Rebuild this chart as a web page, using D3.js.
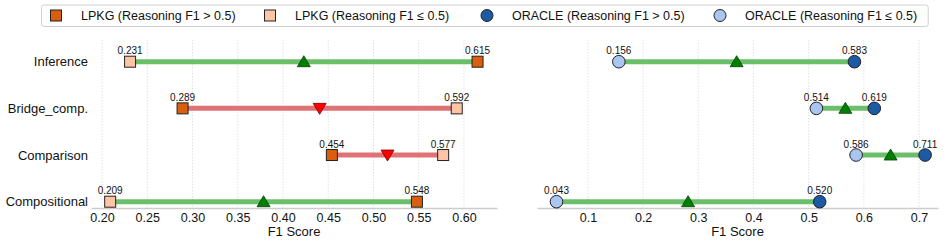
<!DOCTYPE html>
<html>
<head>
<meta charset="utf-8">
<script src="https://cdn.jsdelivr.net/npm/d3@7"></script>
<style>
body { margin: 0; background: #fff; }
svg { display: block; font-family: "Liberation Sans", Arial, Helvetica, sans-serif; }
</style>
</head>
<body>
<svg id="chart" width="947" height="242"></svg>
<script>
// data
var categories = ['Inference', 'Bridge_comp.', 'Comparison', 'Compositional'];
var lpkgHigh = [0.615, 0.289, 0.454, 0.548];   // LPKG, reasoning F1 > 0.5
var lpkgLow = [0.231, 0.592, 0.577, 0.209];    // LPKG, reasoning F1 <= 0.5
var oracleHigh = [0.583, 0.619, 0.711, 0.520]; // ORACLE, reasoning F1 > 0.5
var oracleLow = [0.156, 0.514, 0.586, 0.043];  // ORACLE, reasoning F1 <= 0.5
var leftTicks = [0.20, 0.25, 0.30, 0.35, 0.40, 0.45, 0.50, 0.55, 0.60];
var rightTicks = [0.1, 0.2, 0.3, 0.4, 0.5, 0.6, 0.7];
var legendLabels = ['LPKG (Reasoning F1 > 0.5)', 'LPKG (Reasoning F1 \u2264 0.5)',
	'ORACLE (Reasoning F1 > 0.5)', 'ORACLE (Reasoning F1 \u2264 0.5)'];

// colours
var cLpkgHigh = '#d95f0e';
var cLpkgLow = '#fcc5a6';
var cOracleHigh = '#1c5aa3';
var cOracleLow = '#a9c5f0';
var cGreenLine = '#6cbf6a';
var cRedLine = '#e07275';

var svg = d3.select('#chart');
var plotTop = 40;
var plotBottom = 208;

var y = d3.scalePoint()
	.domain(categories)
	.range([61.7, 201.7]);

var panels = [
	{ left: 91, right: 497, domain: [0.1878, 0.6365], ticks: leftTicks, fmt: d3.format('.2f'),
		high: lpkgHigh, low: lpkgLow, cHigh: cLpkgHigh, cLow: cLpkgLow, shape: 'square', yLabels: true },
	{ left: 537, right: 938, domain: [0.0077, 0.7344], ticks: rightTicks, fmt: d3.format('.1f'),
		high: oracleHigh, low: oracleLow, cHigh: cOracleHigh, cLow: cOracleLow, shape: 'circle', yLabels: false }
];

panels.forEach(function(p) {
	var x = d3.scaleLinear().domain(p.domain).range([p.left, p.right]);
	var g = svg.append('g');

	// dotted vertical grid
	g.selectAll('line.grid')
		.data(p.ticks)
		.enter().append('line')
		.attr('class', 'grid')
		.attr('x1', function(d) { return x(d); })
		.attr('x2', function(d) { return x(d); })
		.attr('y1', plotTop)
		.attr('y2', plotBottom)
		.attr('stroke', '#d9d9d9')
		.attr('stroke-width', 0.8)
		.attr('stroke-dasharray', '1.5,1.5');

	// bottom axis
	var axis = g.append('g')
		.attr('transform', 'translate(0,' + plotBottom + ')')
		.call(d3.axisBottom(x).tickValues(p.ticks).tickFormat(p.fmt).tickSize(0).tickPadding(5));
	axis.select('.domain').attr('stroke', '#cccccc').attr('stroke-width', 1.5);
	axis.selectAll('text')
		.attr('font-size', '12.5px')
		.attr('fill', '#111')
		.attr('font-family', '"Liberation Sans", Arial, sans-serif');

	g.append('text')
		.attr('x', (p.left + p.right) / 2)
		.attr('y', 235.5)
		.attr('text-anchor', 'middle')
		.attr('font-size', '13px')
		.attr('fill', '#111')
		.text('F1 Score');

	if (p.yLabels) {
		g.selectAll('text.ylab')
			.data(categories)
			.enter().append('text')
			.attr('class', 'ylab')
			.attr('x', p.left - 3)
			.attr('y', function(d) { return y(d); })
			.attr('dy', '0.35em')
			.attr('text-anchor', 'end')
			.attr('font-size', '13px')
			.attr('fill', '#111')
			.text(function(d) { return d; });
	}

	var rows = categories.map(function(c, i) {
		return { cat: c, high: p.high[i], low: p.low[i], mid: (p.high[i] + p.low[i]) / 2 };
	});

	// connecting segments
	g.selectAll('line.seg')
		.data(rows)
		.enter().append('line')
		.attr('class', 'seg')
		.attr('x1', function(d) { return x(d.high); })
		.attr('x2', function(d) { return x(d.low); })
		.attr('y1', function(d) { return y(d.cat); })
		.attr('y2', function(d) { return y(d.cat); })
		.attr('stroke', function(d) { return d.high >= d.low ? cGreenLine : cRedLine; })
		.attr('stroke-width', 5);

	// midpoint triangles
	g.selectAll('path.mid')
		.data(rows)
		.enter().append('path')
		.attr('class', 'mid')
		.attr('d', function(d) {
			var up = d.high >= d.low;
			return up ? 'M0,-6L6.5,5L-6.5,5Z' : 'M0,6L6.5,-5L-6.5,-5Z';
		})
		.attr('transform', function(d) { return 'translate(' + x(d.mid) + ',' + y(d.cat) + ')'; })
		.attr('fill', function(d) { return d.high >= d.low ? '#008000' : '#ff0000'; })
		.attr('stroke', function(d) { return d.high >= d.low ? '#0b3d0b' : '#7a0000'; })
		.attr('stroke-width', 0.8);

	// end markers
	var pts = [];
	rows.forEach(function(d) {
		pts.push({ cat: d.cat, v: d.low, fill: p.cLow });
		pts.push({ cat: d.cat, v: d.high, fill: p.cHigh });
	});
	if (p.shape === 'square') {
		g.selectAll('rect.pt')
			.data(pts)
			.enter().append('rect')
			.attr('class', 'pt')
			.attr('x', function(d) { return x(d.v) - 5.5; })
			.attr('y', function(d) { return y(d.cat) - 5.5; })
			.attr('width', 11)
			.attr('height', 11)
			.attr('fill', function(d) { return d.fill; })
			.attr('stroke', '#222')
			.attr('stroke-width', 1);
	} else {
		g.selectAll('circle.pt')
			.data(pts)
			.enter().append('circle')
			.attr('class', 'pt')
			.attr('cx', function(d) { return x(d.v); })
			.attr('cy', function(d) { return y(d.cat); })
			.attr('r', 6.3)
			.attr('fill', function(d) { return d.fill; })
			.attr('stroke', '#222')
			.attr('stroke-width', 1);
	}

	// value labels
	g.selectAll('text.val')
		.data(pts)
		.enter().append('text')
		.attr('class', 'val')
		.attr('x', function(d) { return x(d.v); })
		.attr('y', function(d) { return y(d.cat) - 7.5; })
		.attr('text-anchor', 'middle')
		.attr('font-size', '10px')
		.attr('fill', '#111')
		.text(function(d) { return d3.format('.3f')(d.v); });
});

// legend: one column per entry
var legendColors = [cLpkgHigh, cLpkgLow, cOracleHigh, cOracleLow];
var legendShapes = ['square', 'square', 'circle', 'circle'];
var legendX = d3.scaleOrdinal().domain(legendLabels).range([56, 270, 487, 720]);
var legend = svg.append('g');
var box = legend.append('rect')
	.attr('x', 41.5)
	.attr('y', 5)
	.attr('height', 21.5)
	.attr('rx', 2.5)
	.attr('fill', '#fff')
	.attr('stroke', '#d0d0d0')
	.attr('stroke-width', 1);

var lastEnd = 0;
legendLabels.forEach(function(lab, i) {
	var lx = legendX(lab);
	if (legendShapes[i] === 'square') {
		legend.append('rect')
			.attr('x', lx - 5.5).attr('y', 15.5 - 5.5)
			.attr('width', 11).attr('height', 11)
			.attr('fill', legendColors[i]).attr('stroke', '#222').attr('stroke-width', 1);
	} else {
		legend.append('circle')
			.attr('cx', lx).attr('cy', 15.5).attr('r', 6)
			.attr('fill', legendColors[i]).attr('stroke', '#222').attr('stroke-width', 1);
	}
	var t = legend.append('text')
		.attr('x', lx + 25)
		.attr('y', 15.5)
		.attr('dy', '0.35em')
		.attr('font-size', '12.5px')
		.attr('fill', '#111')
		.text(lab);
	lastEnd = lx + 25 + t.node().getComputedTextLength();
});
box.attr('width', Math.min(lastEnd + 11, 944) - 41.5);
</script>
</body>
</html>
